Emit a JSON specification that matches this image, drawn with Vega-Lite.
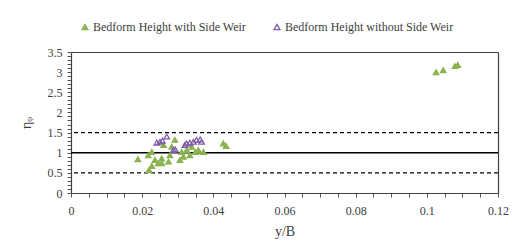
{
  "$schema": "https://vega.github.io/schema/vega-lite/v6.json",
  "autosize": "none",
  "width": 427,
  "height": 141,
  "padding": {"left": 71, "top": 52, "right": 19, "bottom": 53},
  "background": "white",
  "config": {
    "view": {"stroke": null},
    "font": "Liberation Serif",
    "axis": {"labelFont": "Liberation Serif", "titleFont": "Liberation Serif", "labelColor": "#404040", "titleColor": "#404040", "domainColor": "#404040", "domainWidth": 1.2, "tickColor": "#595959", "grid": false, "labelFontSize": 12, "titleFontSize": 14, "titleFontWeight": "normal", "labelOverlap": false, "labelBound": false, "labelFlush": false},
    "legend": {"labelFont": "Liberation Serif", "labelFontSize": 12, "labelColor": "#404040", "labelLimit": 400}
  },
  "datasets": {
    "pts": [
      {"x": 0.0188, "y": 0.84, "series": "Bedform Height with Side Weir"},
      {"x": 0.0219, "y": 0.57, "series": "Bedform Height with Side Weir"},
      {"x": 0.0227, "y": 0.67, "series": "Bedform Height with Side Weir"},
      {"x": 0.0217, "y": 0.94, "series": "Bedform Height with Side Weir"},
      {"x": 0.0227, "y": 1.02, "series": "Bedform Height with Side Weir"},
      {"x": 0.0236, "y": 0.82, "series": "Bedform Height with Side Weir"},
      {"x": 0.0245, "y": 0.74, "series": "Bedform Height with Side Weir"},
      {"x": 0.0255, "y": 0.86, "series": "Bedform Height with Side Weir"},
      {"x": 0.0255, "y": 0.74, "series": "Bedform Height with Side Weir"},
      {"x": 0.0260, "y": 1.19, "series": "Bedform Height with Side Weir"},
      {"x": 0.0274, "y": 0.78, "series": "Bedform Height with Side Weir"},
      {"x": 0.0278, "y": 0.94, "series": "Bedform Height with Side Weir"},
      {"x": 0.0283, "y": 1.15, "series": "Bedform Height with Side Weir"},
      {"x": 0.0292, "y": 1.32, "series": "Bedform Height with Side Weir"},
      {"x": 0.0306, "y": 0.82, "series": "Bedform Height with Side Weir"},
      {"x": 0.0311, "y": 1.02, "series": "Bedform Height with Side Weir"},
      {"x": 0.0316, "y": 0.90, "series": "Bedform Height with Side Weir"},
      {"x": 0.0325, "y": 1.07, "series": "Bedform Height with Side Weir"},
      {"x": 0.0334, "y": 0.94, "series": "Bedform Height with Side Weir"},
      {"x": 0.0339, "y": 1.15, "series": "Bedform Height with Side Weir"},
      {"x": 0.0349, "y": 1.02, "series": "Bedform Height with Side Weir"},
      {"x": 0.0358, "y": 1.07, "series": "Bedform Height with Side Weir"},
      {"x": 0.0372, "y": 1.02, "series": "Bedform Height with Side Weir"},
      {"x": 0.0428, "y": 1.23, "series": "Bedform Height with Side Weir"},
      {"x": 0.0436, "y": 1.17, "series": "Bedform Height with Side Weir"},
      {"x": 0.1026, "y": 3.00, "series": "Bedform Height with Side Weir"},
      {"x": 0.1046, "y": 3.05, "series": "Bedform Height with Side Weir"},
      {"x": 0.1079, "y": 3.15, "series": "Bedform Height with Side Weir"},
      {"x": 0.1087, "y": 3.18, "series": "Bedform Height with Side Weir"},
      {"x": 0.0241, "y": 1.25, "series": "Bedform Height without Side Weir"},
      {"x": 0.0250, "y": 1.27, "series": "Bedform Height without Side Weir"},
      {"x": 0.0257, "y": 1.30, "series": "Bedform Height without Side Weir"},
      {"x": 0.0269, "y": 1.40, "series": "Bedform Height without Side Weir"},
      {"x": 0.0288, "y": 1.07, "series": "Bedform Height without Side Weir"},
      {"x": 0.0293, "y": 1.08, "series": "Bedform Height without Side Weir"},
      {"x": 0.0320, "y": 1.19, "series": "Bedform Height without Side Weir"},
      {"x": 0.0325, "y": 1.23, "series": "Bedform Height without Side Weir"},
      {"x": 0.0334, "y": 1.25, "series": "Bedform Height without Side Weir"},
      {"x": 0.0344, "y": 1.27, "series": "Bedform Height without Side Weir"},
      {"x": 0.0353, "y": 1.32, "series": "Bedform Height without Side Weir"},
      {"x": 0.0363, "y": 1.33, "series": "Bedform Height without Side Weir"},
      {"x": 0.0367, "y": 1.27, "series": "Bedform Height without Side Weir"}
    ],
    "solid": [{"y": 1}],
    "dashed": [{"y": 0.5}, {"y": 1.5}]
  },
  "resolve": {"axis": {"x": "independent", "y": "independent"}},
  "layer": [
    {
      "data": {"name": "dashed"},
      "mark": {"type": "rule", "color": "black", "strokeWidth": 1.2, "strokeDash": [4, 3]},
      "encoding": {"y": {"field": "y", "type": "quantitative", "axis": null}}
    },
    {
      "data": {"name": "solid"},
      "mark": {"type": "rule", "color": "black", "strokeWidth": 1.5},
      "encoding": {"y": {"field": "y", "type": "quantitative", "axis": null}}
    },
    {
      "data": {"name": "pts"},
      "mark": {"type": "point", "shape": "triangle-up", "opacity": 0},
      "encoding": {
        "x": {"field": "x", "type": "quantitative", "axis": {"orient": "top", "labels": false, "ticks": false, "title": null, "domain": true}},
        "y": {"field": "y", "type": "quantitative", "axis": {"orient": "right", "labels": false, "ticks": false, "title": null, "domain": true}}
      }
    },
    {
      "data": {"name": "pts"},
      "mark": {"type": "point", "shape": "triangle-up", "filled": false, "size": 30, "strokeWidth": 1.3, "opacity": 1},
      "encoding": {
        "x": {
          "field": "x", "type": "quantitative",
          "scale": {"domain": [0, 0.12], "nice": false},
          "axis": {
            "orient": "bottom",
            "title": "y/B",
            "values": [0, 0.005, 0.01, 0.015, 0.02, 0.025, 0.03, 0.035, 0.04, 0.045, 0.05, 0.055, 0.06, 0.065, 0.07, 0.075, 0.08, 0.085, 0.09, 0.095, 0.1, 0.105, 0.11, 0.115, 0.12],
            "labelExpr": "abs(datum.value*50 - round(datum.value*50)) < 0.001 ? format(datum.value, '~g') : ''",
            "tickSize": 4,
            "labelPadding": 8,
            "titlePadding": 8
          }
        },
        "y": {
          "field": "y", "type": "quantitative",
          "scale": {"domain": [0, 3.5], "nice": false},
          "axis": {
            "orient": "left",
            "title": "ηᵩ",
            "values": [0, 0.1, 0.2, 0.3, 0.4, 0.5, 0.6, 0.7, 0.8, 0.9, 1, 1.1, 1.2, 1.3, 1.4, 1.5, 1.6, 1.7, 1.8, 1.9, 2, 2.1, 2.2, 2.3, 2.4, 2.5, 2.6, 2.7, 2.8, 2.9, 3, 3.1, 3.2, 3.3, 3.4, 3.5],
            "labelExpr": "abs(datum.value*2 - round(datum.value*2)) < 0.001 ? format(datum.value, '~g') : ''",
            "tickSize": 4,
            "labelPadding": 5,
            "titlePadding": 14
          }
        },
        "color": {
          "field": "series", "type": "nominal",
          "scale": {"domain": ["Bedform Height with Side Weir", "Bedform Height without Side Weir"], "range": ["#8AB34F", "#7E5AA8"]},
          "legend": {"title": null, "orient": "none", "legendX": 8, "legendY": -31, "direction": "horizontal", "columnPadding": 24, "symbolSize": 35, "symbolStrokeWidth": 1.3, "labelOffset": 2, "labelLimit": 400}
        },
        "fill": {
          "field": "series", "type": "nominal",
          "scale": {"domain": ["Bedform Height with Side Weir", "Bedform Height without Side Weir"], "range": ["#8AB34F", "transparent"]},
          "legend": {"title": null, "orient": "none", "legendX": 8, "legendY": -31, "direction": "horizontal", "columnPadding": 24, "symbolSize": 35, "symbolStrokeWidth": 1.3, "labelOffset": 2, "labelLimit": 400}
        },
        "shape": {"value": "triangle-up"}
      }
    }
  ]
}
